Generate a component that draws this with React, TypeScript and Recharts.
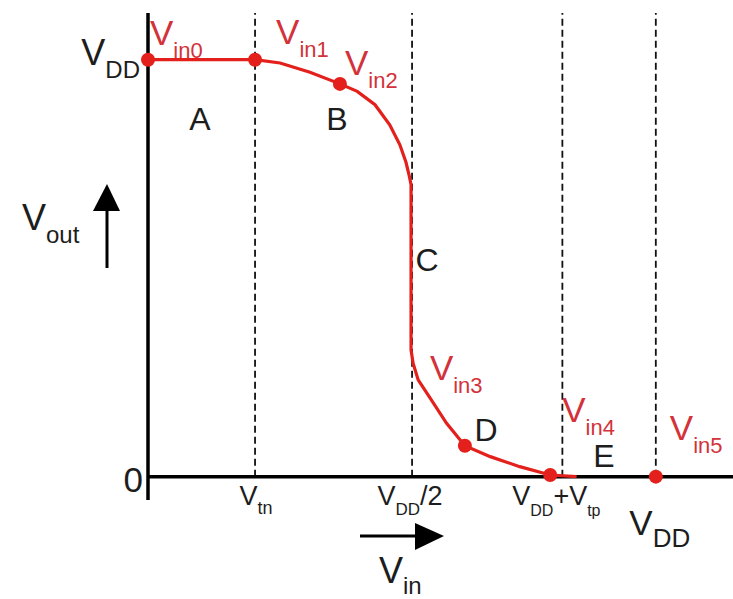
import React from "react";
import {
  ComposedChart,
  Line,
  XAxis,
  YAxis,
  ReferenceLine,
  ReferenceDot,
} from "recharts";

const WIDTH = 733;
const HEIGHT = 599;
const FONT = "'Liberation Sans', Arial, Helvetica, sans-serif";
const RED = "#e3201b";
const RED_TEXT = "#d3323a";
const INK = "#1d1d1d";

// Voltage-transfer curve samples (Vin, Vout), volts with VDD = 5
const curveVin = [
  0, 1.054, 1.3, 1.595, 1.89, 2.06, 2.235, 2.38, 2.48, 2.54, 2.57, 2.59, 2.59,
  2.61, 2.66, 2.78, 2.94, 3.12, 3.37, 3.66, 3.96, 4.22,
];
const curveVout = [
  5, 5, 4.96, 4.85, 4.71, 4.62, 4.46, 4.22, 3.98, 3.77, 3.62, 3.5, 1.52, 1.36,
  1.16, 0.94, 0.64, 0.37, 0.24, 0.12, 0.02, 0,
];

// Marked operating points Vin0 … Vin5
const pointVin = [0, 1.054, 1.89, 3.12, 3.96, 5];
const pointVout = [5, 5, 4.71, 0.37, 0.02, 0];
const pointNames = ["in0", "in1", "in2", "in3", "in4", "in5"];

// Operating regions
const regionNames = ["A", "B", "C", "D", "E"];
const regionVin = [0.512, 1.861, 2.747, 3.328, 4.49];
const regionVout = [4.156, 4.156, 2.466, 0.426, 0.115];

// Guide voltages on the Vin axis
const guideVin = [1.054, 2.6, 4.08, 5];
type Part = [string, number];
const guideLabels: Part[][] = [
  [["V", 0], ["tn", 1]],
  [["V", 0], ["DD", 1], ["/2", 0]],
  [["V", 0], ["DD", 1], ["+V", 0], ["tp", 1]],
  [["V", 0], ["DD", 1]],
];

// Vout axis ticks
const levelVout = [0, 5];
const levelLabels: Part[][] = [[["0", 0]], [["V", 0], ["DD", 1]]];

const X_DOMAIN: [number, number] = [0, 5.76];
const Y_DOMAIN: [number, number] = [-0.28, 5.56];

// text placement relative to each anchor
const pointLabelOffset = [
  [2, -15],
  [21, -16],
  [5, -9],
  [-35, -66],
  [12, -53],
  [14, -37],
];
const guideStyle = [
  { dx: 1, dy: 5, size: 27, sub: 18, drop: 9 },
  { dx: -2, dy: 5, size: 27, sub: 17, drop: 10 },
  { dx: -6, dy: 5, size: 27, sub: 16, drop: 11 },
  { dx: 4, dy: 35, size: 35, sub: 26, drop: 12 },
];
const levelStyle = [
  { dx: -5, dy: 15, size: 35, sub: 24, drop: 13 },
  { dx: -8, dy: 5, size: 36, sub: 24, drop: 13 },
];

type RichProps = {
  x: number;
  y: number;
  parts: Part[];
  size: number;
  sub: number;
  drop: number;
  fill: string;
  anchor?: "start" | "middle" | "end";
};

function RichText({ x, y, parts, size, sub, drop, fill, anchor = "start" }: RichProps) {
  let level = 0;
  return (
    <text x={x} y={y} fill={fill} fontFamily={FONT} fontSize={size} textAnchor={anchor}>
      {parts.map(([t, lv], i) => {
        const dy = lv === level ? 0 : lv ? drop : -drop;
        level = lv;
        return (
          <tspan key={i} dy={dy} fontSize={lv ? sub : size}>
            {t}
          </tspan>
        );
      })}
    </text>
  );
}

const center = (vb: any) => ({
  cx: vb.x + (vb.width || 0) / 2,
  cy: vb.y + (vb.height || 0) / 2,
});

function PointLabel(props: any) {
  const { cx, cy } = center(props.viewBox);
  const [dx, dy] = pointLabelOffset[props.idx];
  return (
    <RichText
      x={cx + dx}
      y={cy + dy}
      parts={[["V", 0], [pointNames[props.idx], 1]]}
      size={35}
      sub={22}
      drop={13}
      fill={RED_TEXT}
    />
  );
}

function RegionLabel(props: any) {
  const { cx, cy } = center(props.viewBox);
  return (
    <text x={cx} y={cy} fill={INK} fontFamily={FONT} fontSize={32} textAnchor="middle">
      {props.name}
    </text>
  );
}

function GuideTick(props: any) {
  const i = guideVin.indexOf(props.payload.value);
  const s = guideStyle[i];
  return (
    <RichText
      x={props.x + s.dx}
      y={props.y + s.dy}
      parts={guideLabels[i]}
      size={s.size}
      sub={s.sub}
      drop={s.drop}
      fill={INK}
      anchor="middle"
    />
  );
}

function LevelTick(props: any) {
  const i = levelVout.indexOf(props.payload.value);
  const s = levelStyle[i];
  return (
    <RichText
      x={props.x + s.dx}
      y={props.y + s.dy}
      parts={levelLabels[i]}
      size={s.size}
      sub={s.sub}
      drop={s.drop}
      fill={INK}
      anchor="end"
    />
  );
}

// "Vout" caption with an upward arrow, left of the Vout axis
function VoutCaption(props: any) {
  const { x, y } = props.viewBox;
  return (
    <g>
      <line x1={x + 107} y1={y + 255} x2={x + 107} y2={y + 192} stroke="#000" strokeWidth={3} />
      <polygon points={`${x + 107},${y + 171} ${x + 93},${y + 198} ${x + 120},${y + 198}`} fill="#000" />
      <RichText
        x={x + 22}
        y={y + 217}
        parts={[["V", 0], ["out", 1]]}
        size={36}
        sub={24}
        drop={13}
        fill={INK}
      />
    </g>
  );
}

// "Vin" caption with a rightward arrow, below the Vin axis
function VinCaption(props: any) {
  const { x, y } = props.viewBox;
  return (
    <g>
      <line x1={x + 212} y1={y + 36} x2={x + 274} y2={y + 36} stroke="#000" strokeWidth={3} />
      <polygon points={`${x + 296},${y + 36} ${x + 267},${y + 23} ${x + 267},${y + 50}`} fill="#000" />
      <RichText
        x={x + 231}
        y={y + 83}
        parts={[["V", 0], ["in", 1]]}
        size={36}
        sub={24}
        drop={11}
        fill={INK}
      />
    </g>
  );
}

const curveData = curveVin.map((v, i) => ({ vin: v, vout: curveVout[i] }));

export default function App() {
  return (
    <div style={{ position: "absolute", left: 0, top: 0, width: WIDTH, height: HEIGHT, background: "#fff" }}>
      <ComposedChart
        width={WIDTH}
        height={HEIGHT}
        margin={{ top: 13, right: 0, bottom: 0, left: 0 }}
      >
        <XAxis
          dataKey="vin"
          type="number"
          domain={X_DOMAIN}
          allowDataOverflow
          ticks={guideVin}
          interval={0}
          height={99}
          axisLine={false}
          tickLine={false}
          tickSize={0}
          tickMargin={0}
          tick={<GuideTick />}
          label={<VinCaption />}
        />
        <YAxis
          type="number"
          domain={Y_DOMAIN}
          allowDataOverflow
          ticks={levelVout}
          interval={0}
          width={148}
          axisLine={{ stroke: "#000", strokeWidth: 3.5 }}
          tickLine={false}
          tickSize={0}
          tickMargin={0}
          tick={<LevelTick />}
          label={<VoutCaption />}
        />
        {guideVin.map((v) => (
          <ReferenceLine
            key={`g${v}`}
            segment={[
              { x: v, y: 0 },
              { x: v, y: Y_DOMAIN[1] },
            ]}
            stroke="#111"
            strokeWidth={1.8}
            strokeDasharray="7 4"
          />
        ))}
        <ReferenceLine y={0} stroke="#000" strokeWidth={3.5} />
        <Line
          data={curveData}
          dataKey="vout"
          type="linear"
          stroke={RED}
          strokeWidth={3.2}
          dot={false}
          activeDot={false}
          isAnimationActive={false}
        />
        {pointVin.map((v, i) => (
          <ReferenceDot
            key={`p${i}`}
            x={v}
            y={pointVout[i]}
            r={7}
            fill={RED}
            stroke="none"
            label={<PointLabel idx={i} />}
          />
        ))}
        {regionNames.map((n, i) => (
          <ReferenceDot
            key={`r${n}`}
            x={regionVin[i]}
            y={regionVout[i]}
            r={0}
            fill="none"
            stroke="none"
            label={<RegionLabel name={n} />}
          />
        ))}
      </ComposedChart>
    </div>
  );
}
